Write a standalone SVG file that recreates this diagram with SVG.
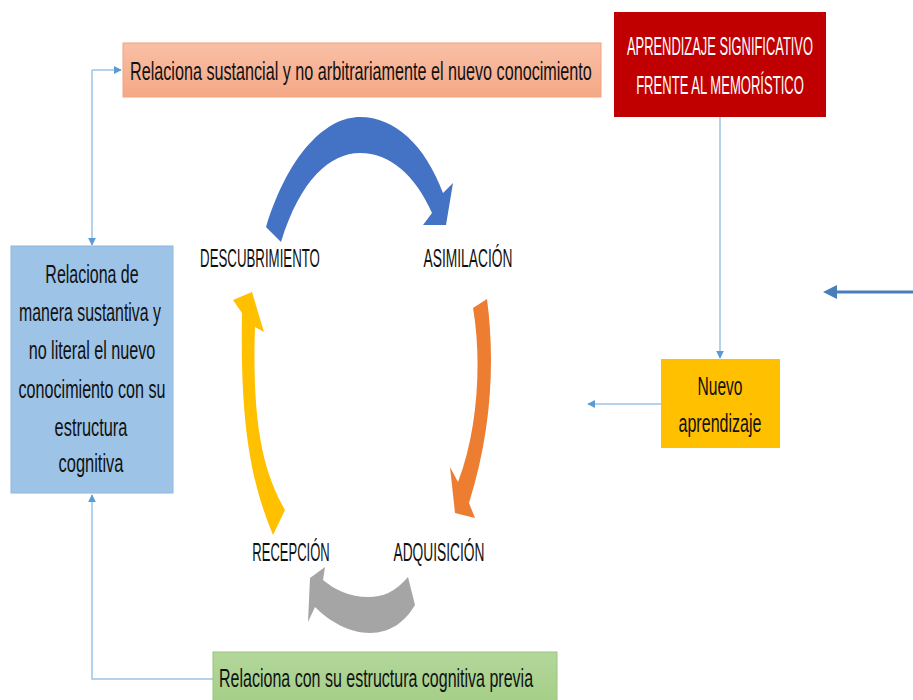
<svg xmlns="http://www.w3.org/2000/svg" width="913" height="700" viewBox="0 0 913 700">
  <defs>
    <style>
      .lbl { font-family: "Liberation Sans", Arial, sans-serif; fill: #111; font-size: 26px; }
      .cyc { font-family: "Liberation Sans", Arial, sans-serif; fill: #111; font-size: 26px; text-anchor: middle; }
      .ttl { font-family: "Liberation Sans", Arial, sans-serif; fill: #fff; font-size: 25px; text-anchor: middle; }
      .mid { text-anchor: middle; }
      .conn { fill: none; stroke: #9DC3E6; stroke-width: 1.5; }
    </style>
    <marker id="tip" viewBox="0 0 10 10" refX="9" refY="5" markerWidth="8" markerHeight="8" markerUnits="userSpaceOnUse" orient="auto">
      <path d="M0,0 L10,5 L0,10 Z" fill="#5B9BD5"/>
    </marker>
    <linearGradient id="salmon" x1="0" y1="0" x2="0" y2="1">
      <stop offset="0" stop-color="#F9BFA6"/>
      <stop offset="1" stop-color="#F4A886"/>
    </linearGradient>
    <linearGradient id="green" x1="0" y1="0" x2="0" y2="1">
      <stop offset="0" stop-color="#B3D79A"/>
      <stop offset="1" stop-color="#A2CD85"/>
    </linearGradient>
  </defs>

  <rect width="913" height="700" fill="#fff"/>

  <!-- connectors -->
  <g id="connectors">
    <path class="conn" d="M92,70 L121,70" marker-end="url(#tip)"/>
    <path class="conn" d="M92,70 L92,245" marker-end="url(#tip)"/>
    <path class="conn" d="M213,679 L92,679 L92,495" marker-end="url(#tip)"/>
    <path class="conn" d="M720,117 L720,358" marker-end="url(#tip)"/>
    <path class="conn" d="M661,404 L588,404" marker-end="url(#tip)"/>
    <!-- thick pointer on the right -->
    <line x1="913" y1="292" x2="834" y2="292" stroke="#4A7EBB" stroke-width="3"/>
    <path d="M823,292 L837,285 L837,299 Z" fill="#4A7EBB"/>
  </g>

  <!-- cycle arrows -->
  <g id="cycle">
    <path d="M266,227 C290,150 328,117 360,117 C395,117 425,145 443,193 L453,183 L446,225 L423,225 L432,213 C415,175 390,153 360,153 C330,153 300,180 281,242 Z" fill="#4472C4"/>
    <path d="M473,308 L487,299 C495,360 492,430 469,503 L475,518 L455,513 L450,467 L458,482 C478,430 482,360 473,308 Z" fill="#ED7D31"/>
    <path d="M408,577 C395,592 383,597 368,597 C350,597 335,590 323,580 L325,567 L310,578 L308,622 L315,607 C330,622 350,633 370,633 C390,633 405,622 415,605 Z" fill="#A5A5A5"/>
    <path d="M273,535 C250,480 240,420 242,313 L233,300 L252,292 L264,332 L255,327 C252,420 262,470 285,510 Z" fill="#FFC000"/>
  </g>

  <!-- cycle labels (condensed lettering via horizontal scale) -->
  <g id="descubrimiento">
    <text class="cyc" transform="translate(260,267) scale(0.51,1)">DESCUBRIMIENTO</text>
  </g>
  <g id="asimilacion">
    <text class="cyc" transform="translate(468,267) scale(0.53,1)">ASIMILACIÓN</text>
  </g>
  <g id="recepcion">
    <text class="cyc" transform="translate(291,561) scale(0.5,1)">RECEPCIÓN</text>
  </g>
  <g id="adquisicion">
    <text class="cyc" transform="translate(439,561) scale(0.53,1)">ADQUISICIÓN</text>
  </g>

  <!-- boxes -->
  <g id="sustancial">
    <rect x="123" y="43" width="478" height="54" fill="url(#salmon)" stroke="#F2A27E" stroke-width="1"/>
    <text class="lbl" font-size="25" transform="translate(130,80) scale(0.622,1)">Relaciona sustancial y no arbitrariamente el nuevo conocimiento</text>
  </g>

  <g id="titulo">
    <rect x="614" y="12" width="212" height="105" fill="#C00000"/>
    <text class="ttl" transform="translate(720,55) scale(0.516,1)">APRENDIZAJE SIGNIFICATIVO</text>
    <text class="ttl" transform="translate(720,94) scale(0.522,1)">FRENTE AL MEMORÍSTICO</text>
  </g>

  <g id="sustantiva">
    <rect x="11" y="246" width="162" height="247" fill="#9DC3E6" stroke="#8FB6DE" stroke-width="1"/>
    <g class="lbl mid">
      <text transform="translate(92,283) scale(0.615,1)">Relaciona de</text>
      <text transform="translate(90,321) scale(0.61,1)">manera sustantiva  y</text>
      <text transform="translate(92,359) scale(0.622,1)">no literal el nuevo</text>
      <text transform="translate(92,398) scale(0.62,1)">conocimiento con su</text>
      <text transform="translate(91,436) scale(0.63,1)">estructura</text>
      <text transform="translate(91,472) scale(0.633,1)">cognitiva</text>
    </g>
  </g>

  <g id="nuevo">
    <rect x="661" y="359" width="119" height="89" fill="#FFC000"/>
    <g class="lbl mid">
      <text transform="translate(720,395) scale(0.6,1)">Nuevo</text>
      <text transform="translate(720,432) scale(0.618,1)">aprendizaje</text>
    </g>
  </g>

  <g id="previa">
    <rect x="213" y="652" width="344" height="60" fill="url(#green)" stroke="#9AC47E" stroke-width="1"/>
    <text class="lbl" transform="translate(219,687) scale(0.616,1)">Relaciona con su estructura cognitiva previa</text>
  </g>
</svg>
